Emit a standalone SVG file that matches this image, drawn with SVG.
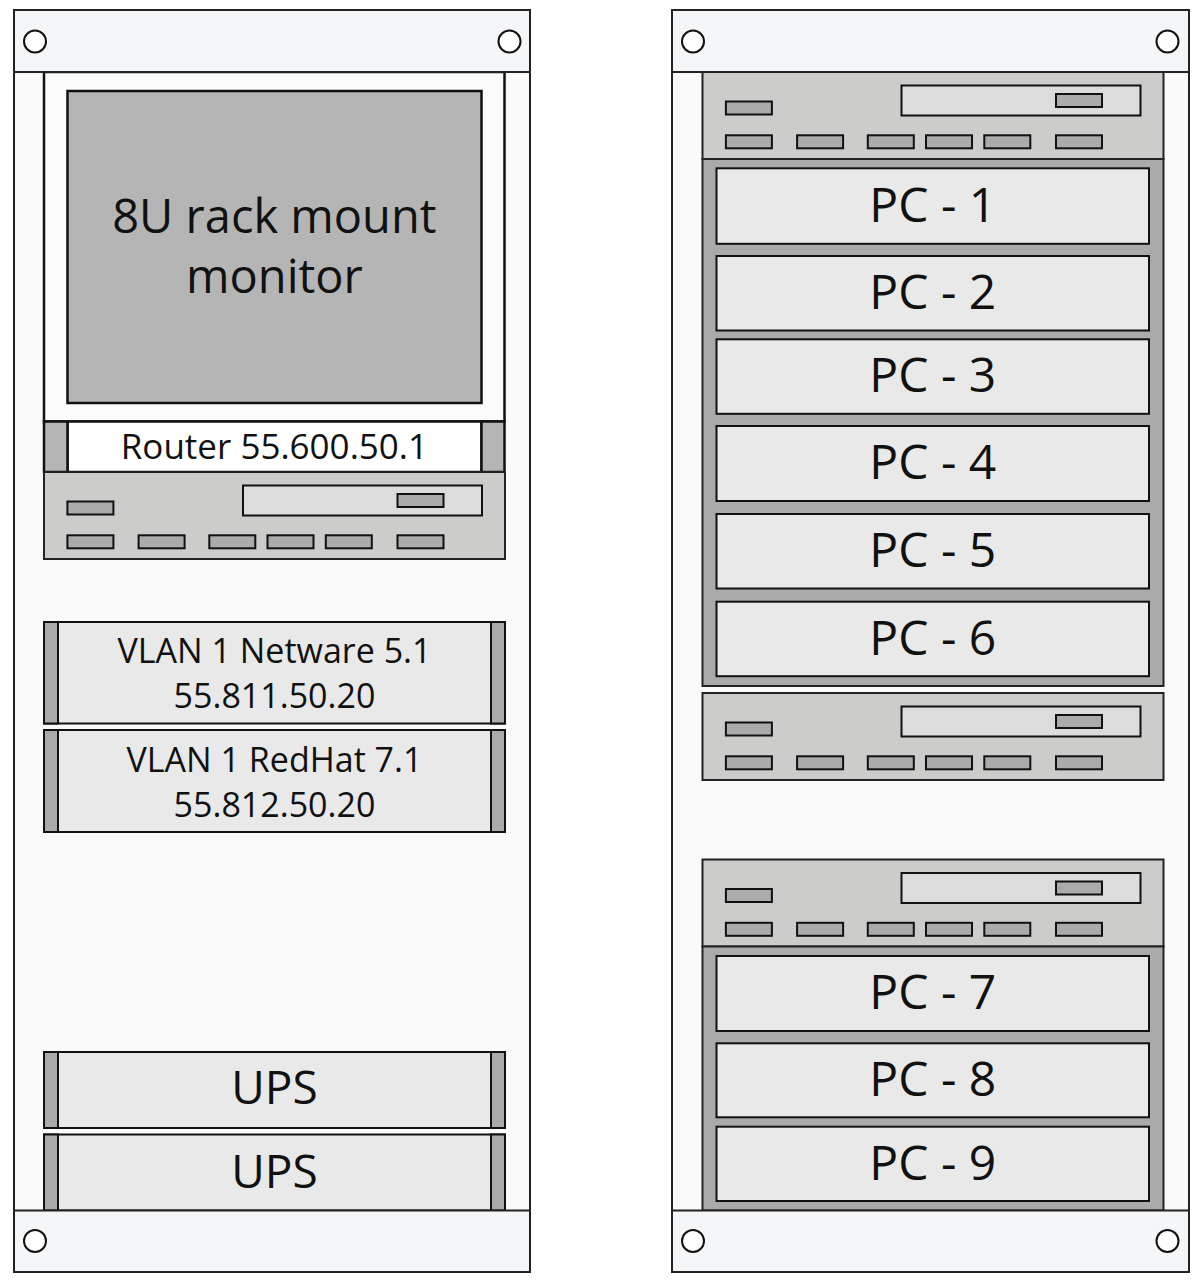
<svg xmlns="http://www.w3.org/2000/svg" width="1203" height="1286" viewBox="0 0 1203 1286">
<style>
.rack{fill:#F9FAF9;stroke:#222;stroke-width:2}
.panel{fill:#F5F6F8;stroke:#222;stroke-width:2}
.hole{fill:#FFFFFF;stroke:#111;stroke-width:2}
.frame{fill:#FAFBFA;stroke:#111;stroke-width:2.5}
.screen{fill:#B4B5B4;stroke:#111;stroke-width:2.5}
.label{fill:#FFFFFF;stroke:#111;stroke-width:2.5}
.dev{fill:#CCCCCB;stroke:#222;stroke-width:2}
.slot{fill:#DCDCDC;stroke:#111;stroke-width:2}
.port{fill:#AAABAA;stroke:#111;stroke-width:2}
.unit{fill:#E8E9E8;stroke:#111;stroke-width:2}
.ear{fill:#AAAAAA;stroke:#111;stroke-width:2}
.tray{fill:#AAAAAA;stroke:#222;stroke-width:2}
text{font-family:"Open Sans","Liberation Sans",sans-serif;fill:#111;text-anchor:middle}
</style>
<defs>
<symbol id="switch" width="461" height="87" viewBox="0 0 461 87" overflow="visible">
<rect class="dev" x="0" y="0" width="461" height="87"/>
<rect class="slot" x="199" y="13.5" width="239" height="30"/>
<rect class="port" x="353.5" y="22" width="46" height="13"/>
<rect class="port" x="23.4" y="29.5" width="46" height="13"/>
<rect class="port" x="23.4" y="63.3" width="46" height="13"/>
<rect class="port" x="94.6" y="63.3" width="46" height="13"/>
<rect class="port" x="165.3" y="63.3" width="46" height="13"/>
<rect class="port" x="223.5" y="63.3" width="46" height="13"/>
<rect class="port" x="281.8" y="63.3" width="46" height="13"/>
<rect class="port" x="353.5" y="63.3" width="46" height="13"/>
</symbol>
</defs>

<g id="rack-left">
<rect class="rack" x="14" y="10" width="516" height="1262"/>
</g>
<g id="rack-right">
<rect class="rack" x="672" y="10" width="517" height="1262"/>
</g>

<g id="monitor">
<rect class="frame" x="44" y="72" width="460.5" height="349.5"/>
<rect class="screen" x="67.5" y="91" width="414" height="312"/>
<text x="274.4" y="233" font-size="47">8U rack mount</text>
<text x="274.4" y="293" font-size="47">monitor</text>
</g>

<g id="router">
<rect class="label" x="67.5" y="421.5" width="414" height="50.5"/>
<rect class="screen" x="44" y="421.5" width="23.5" height="50.5"/>
<rect class="screen" x="481.5" y="421.5" width="23" height="50.5"/>
<text x="274.4" y="459" font-size="35">Router 55.600.50.1</text>
</g>

<g id="switch-left">
<use href="#switch" x="44" y="472"/>
</g>

<g id="vlan-netware">
<rect class="unit" x="44" y="622" width="461" height="101.5"/>
<rect class="ear" x="44" y="622" width="14" height="101.5"/>
<rect class="ear" x="491" y="622" width="14" height="101.5"/>
<text x="274.5" y="662.5" font-size="34">VLAN 1 Netware 5.1</text>
<text x="274.5" y="708.3" font-size="34">55.811.50.20</text>
</g>

<g id="vlan-redhat">
<rect class="unit" x="44" y="730" width="461" height="102"/>
<rect class="ear" x="44" y="730" width="14" height="102"/>
<rect class="ear" x="491" y="730" width="14" height="102"/>
<text x="274.5" y="771.7" font-size="34">VLAN 1 RedHat 7.1</text>
<text x="274.5" y="816.7" font-size="34">55.812.50.20</text>
</g>

<g id="ups-1">
<rect class="unit" x="44" y="1052" width="461" height="76"/>
<rect class="ear" x="44" y="1052" width="14" height="76"/>
<rect class="ear" x="491" y="1052" width="14" height="76"/>
<text x="274.5" y="1104" font-size="46">UPS</text>
</g>

<g id="ups-2">
<rect class="unit" x="44" y="1134.5" width="461" height="76"/>
<rect class="ear" x="44" y="1134.5" width="14" height="76"/>
<rect class="ear" x="491" y="1134.5" width="14" height="76"/>
<text x="274.5" y="1187.5" font-size="46">UPS</text>
</g>

<g id="switch-right-1">
<use href="#switch" x="702.5" y="72"/>
</g>

<g id="pc-tray-1">
<rect class="tray" x="702.5" y="159" width="461" height="527"/>
</g>
<g id="pc-1"><rect class="unit" x="716.5" y="168.3" width="432.5" height="75.5"/><text x="932.8" y="221.5" font-size="48">PC - 1</text></g>
<g id="pc-2"><rect class="unit" x="716.5" y="256" width="432.5" height="74.5"/><text x="932.8" y="308.7" font-size="48">PC - 2</text></g>
<g id="pc-3"><rect class="unit" x="716.5" y="339.3" width="432.5" height="74.5"/><text x="932.8" y="392" font-size="48">PC - 3</text></g>
<g id="pc-4"><rect class="unit" x="716.5" y="426" width="432.5" height="75"/><text x="932.8" y="479" font-size="48">PC - 4</text></g>
<g id="pc-5"><rect class="unit" x="716.5" y="514" width="432.5" height="74.5"/><text x="932.8" y="566.7" font-size="48">PC - 5</text></g>
<g id="pc-6"><rect class="unit" x="716.5" y="601.7" width="432.5" height="74.5"/><text x="932.8" y="654.5" font-size="48">PC - 6</text></g>

<g id="switch-right-2">
<use href="#switch" x="702.5" y="693"/>
</g>

<g id="switch-right-3">
<use href="#switch" x="702.5" y="859.5"/>
</g>

<g id="pc-tray-2">
<rect class="tray" x="702.5" y="946.5" width="461" height="264"/>
</g>
<g id="pc-7"><rect class="unit" x="716.5" y="956" width="432.5" height="75"/><text x="932.8" y="1009.3" font-size="48">PC - 7</text></g>
<g id="pc-8"><rect class="unit" x="716.5" y="1043.3" width="432.5" height="74"/><text x="932.8" y="1096.3" font-size="48">PC - 8</text></g>
<g id="pc-9"><rect class="unit" x="716.5" y="1126.7" width="432.5" height="74.3"/><text x="932.8" y="1179.7" font-size="48">PC - 9</text></g>

<g id="panels-left">
<rect class="panel" x="14" y="10" width="516" height="62"/>
<circle class="hole" cx="35" cy="41.5" r="11"/>
<circle class="hole" cx="509.5" cy="41.5" r="11"/>
<rect class="panel" x="14" y="1210.5" width="516" height="61.5"/>
<circle class="hole" cx="35" cy="1241" r="11"/>
</g>

<g id="panels-right">
<rect class="panel" x="672" y="10" width="517" height="62"/>
<circle class="hole" cx="693" cy="41.5" r="11"/>
<circle class="hole" cx="1167.5" cy="41.5" r="11"/>
<rect class="panel" x="672" y="1210.5" width="517" height="61.5"/>
<circle class="hole" cx="693" cy="1241" r="11"/>
<circle class="hole" cx="1167.5" cy="1241" r="11"/>
</g>

<g id="connectors"></g>
</svg>
